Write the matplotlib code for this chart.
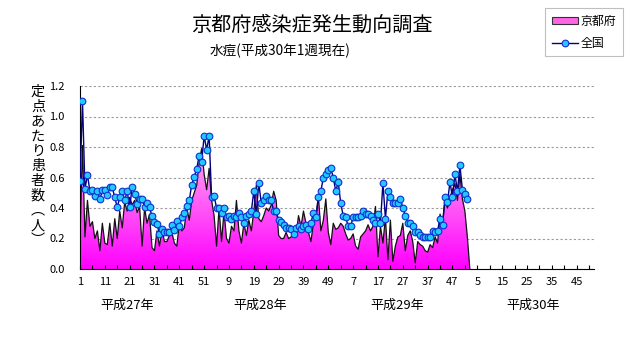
import numpy as np
import matplotlib
matplotlib.use("Agg")
import matplotlib.pyplot as plt
from matplotlib.patches import PathPatch, Patch
from matplotlib.lines import Line2D
from matplotlib.colors import to_rgb

plt.rcParams['font.family'] = ['Noto Sans CJK JP', 'DejaVu Sans']

# ---------------- data ----------------
years = ["平成27年", "平成28年", "平成29年", "平成30年"]
weeks_per_year = [52, 52, 52, 52]

kyoto_2015 = [0.20, 0.81, 0.21, 0.45, 0.28, 0.31, 0.20, 0.25, 0.12, 0.30,
              0.17, 0.16, 0.30, 0.15, 0.33, 0.20, 0.38, 0.27, 0.44, 0.38,
              0.47, 0.42, 0.45, 0.37, 0.41, 0.15, 0.40, 0.30, 0.36, 0.14,
              0.12, 0.25, 0.15, 0.26, 0.18, 0.18, 0.22, 0.24, 0.17, 0.15,
              0.30, 0.25, 0.27, 0.40, 0.32, 0.45, 0.50, 0.55, 0.70, 0.79,
              0.62, 0.52]
kyoto_2016 = [0.66, 0.45, 0.35, 0.15, 0.40, 0.18, 0.38, 0.20, 0.17, 0.28,
              0.25, 0.45, 0.25, 0.17, 0.30, 0.22, 0.32, 0.25, 0.38, 0.55,
              0.33, 0.31, 0.35, 0.40, 0.38, 0.42, 0.51, 0.45, 0.22, 0.20,
              0.20, 0.24, 0.20, 0.21, 0.23, 0.22, 0.35, 0.28, 0.38, 0.30,
              0.24, 0.18, 0.30, 0.33, 0.48, 0.25, 0.32, 0.46, 0.24, 0.16,
              0.30, 0.26]
kyoto_2017 = [0.27, 0.30, 0.28, 0.23, 0.19, 0.20, 0.23, 0.15, 0.13, 0.21,
              0.23, 0.25, 0.29, 0.25, 0.28, 0.41, 0.08, 0.28, 0.17, 0.34,
              0.06, 0.32, 0.05, 0.15, 0.21, 0.22, 0.30, 0.12, 0.22, 0.25,
              0.18, 0.04, 0.18, 0.16, 0.15, 0.12, 0.11, 0.16, 0.14, 0.21,
              0.17, 0.36, 0.30, 0.45, 0.40, 0.47, 0.52, 0.56, 0.45, 0.62,
              0.46, 0.38]
kyoto_2018 = [0.21, 0.0]

national_2015 = [0.574, 1.10, 0.526, 0.617, 0.51, 0.515, 0.476, 0.513, 0.458, 0.515,
                 0.52, 0.487, 0.535, 0.535, 0.47, 0.404, 0.47, 0.51, 0.45, 0.51,
                 0.404, 0.535, 0.495, 0.428, 0.458, 0.458, 0.404, 0.43, 0.404, 0.345,
                 0.305, 0.297, 0.229, 0.264, 0.244, 0.244, 0.244, 0.286, 0.257, 0.318,
                 0.279, 0.338, 0.364, 0.415, 0.45, 0.554, 0.602, 0.657, 0.744, 0.703,
                 0.875, 0.78]
national_2016 = [0.875, 0.47, 0.48, 0.40, 0.40, 0.37, 0.40, 0.34, 0.35, 0.33,
                 0.35, 0.34, 0.37, 0.34, 0.30, 0.35, 0.36, 0.38, 0.51, 0.36,
                 0.565, 0.43, 0.455, 0.48, 0.45, 0.45, 0.38, 0.38, 0.32, 0.31,
                 0.29, 0.27, 0.27, 0.26, 0.23, 0.27, 0.28, 0.26, 0.28, 0.29,
                 0.26, 0.30, 0.37, 0.34, 0.47, 0.51, 0.60, 0.62, 0.65, 0.66,
                 0.60, 0.51]
national_2017 = [0.57, 0.43, 0.35, 0.34, 0.28, 0.28, 0.34, 0.34, 0.34, 0.35,
                 0.38, 0.36, 0.36, 0.35, 0.32, 0.30, 0.36, 0.30, 0.565, 0.33,
                 0.51, 0.47, 0.43, 0.43, 0.43, 0.46, 0.40, 0.35, 0.30, 0.30,
                 0.28, 0.24, 0.24, 0.22, 0.21, 0.21, 0.21, 0.21, 0.25, 0.24,
                 0.25, 0.33, 0.29, 0.47, 0.44, 0.57, 0.47, 0.62, 0.51, 0.68,
                 0.52, 0.49]
national_2018 = [0.46]

kyoto = np.array(kyoto_2015 + kyoto_2016 + kyoto_2017 + kyoto_2018)
national = np.array(national_2015 + national_2016 + national_2017 + national_2018)

week_labels = []
for n in weeks_per_year:
    week_labels += [str(w) for w in range(1, n + 1)]
n_cat = len(week_labels)
x_all = np.arange(1, n_cat + 1)
x_k = x_all[:len(kyoto)]
x_n = x_all[:len(national)]

# ---------------- figure ----------------
W, H = 631, 347
fig = plt.figure(figsize=(W / 100, H / 100), dpi=100)
fig.patch.set_facecolor('white')
ax = fig.add_axes([80 / W, 1 - 269 / H, 514 / W, 183 / H])

# gradient-filled area (Kyoto)
fill = ax.fill_between(x_k, kyoto, 0, facecolor='none', edgecolor='none', zorder=1)
path = fill.get_paths()[0]
clip = PathPatch(path, transform=ax.transData, facecolor='none', edgecolor='none')
ax.add_patch(clip)
top_c = np.array(to_rgb('#ffb8ee'))
bot_c = np.array(to_rgb('#ff00ff'))
t = np.linspace(0, 1, 256)[:, None, None]
grad = bot_c[None, None, :] * (1 - t) + top_c[None, None, :] * t
im = ax.imshow(grad, extent=[1, n_cat, 0, 0.85], aspect='auto', origin='lower',
               zorder=1, interpolation='bilinear')
im.set_clip_path(clip)
ax.plot(x_k, kyoto, color='#111111', lw=0.9, zorder=2)

# national line
ax.plot(x_n, national, color='#000080', lw=1.0, marker='o', ms=4.8,
        mfc='#22c8ff', mec='#1030d0', mew=0.8, zorder=3)

ax.set_xlim(1, n_cat)
ax.set_ylim(0, 1.2)

# grid
for yv in np.arange(0.2, 1.21, 0.2):
    ax.axhline(yv, color='#9a9a9a', lw=0.8, ls=(0, (2, 2)), zorder=0)

ax.spines['top'].set_visible(False)
ax.spines['right'].set_visible(False)
ax.spines['left'].set_color('black')
ax.spines['bottom'].set_color('black')
ax.spines['bottom'].set_zorder(4)

ax.set_yticks(np.arange(0, 1.21, 0.2))
ax.set_yticklabels([f"{v:.1f}" for v in np.arange(0, 1.21, 0.2)], fontsize=8)
ax.tick_params(axis='y', length=0, pad=11)

ax.set_xticks(x_all[::5], minor=True)
ax.set_xticks(x_all[::10])
ax.set_xticklabels([week_labels[i - 1] for i in x_all[::10]], fontsize=8)
ax.tick_params(axis='x', which='both', direction='in', length=3, width=0.8, pad=6)

# year labels
for lab, fx in zip(years, [127.5, 260.5, 397, 533]):
    fig.text(fx / W, 1 - 305 / H, lab, ha='center', va='center', fontsize=9.4)

# y-axis title (vertical)
ylab = ["定", "点", "あ", "た", "り", "患", "者", "数", "︵", "人", "︶"]
fig.text(38 / W, 1 - 166 / H, "\n".join(ylab), ha='center', va='center',
         fontsize=10.2, linespacing=1.08)

# titles
fig.text(312 / W, 1 - 25 / H, "京都府感染症発生動向調査", ha='center', va='center',
         fontsize=14.5)
fig.text(280 / W, 1 - 51 / H, "水痘(平成30年1週現在)", ha='center', va='center',
         fontsize=9.8)

# legend
handles = [Patch(facecolor='#ff66e6', edgecolor='#333333', lw=0.8),
           Line2D([0], [0], color='#000080', lw=1.0, marker='o', ms=4.8,
                  mfc='#22c8ff', mec='#1030d0', mew=0.8)]
leg = fig.legend(handles, ["京都府", "全国"], loc='upper right',
                 bbox_to_anchor=(623 / W, 1 - 8 / H), frameon=True,
                 fancybox=False, edgecolor='#b0b0b0', fontsize=8.6,
                 handlelength=2.2, handleheight=0.6, handletextpad=0.25,
                 borderpad=0.55, labelspacing=0.75, borderaxespad=0)
leg.get_frame().set_linewidth(0.8)

fig.savefig("out.png", dpi=100, facecolor='white')
